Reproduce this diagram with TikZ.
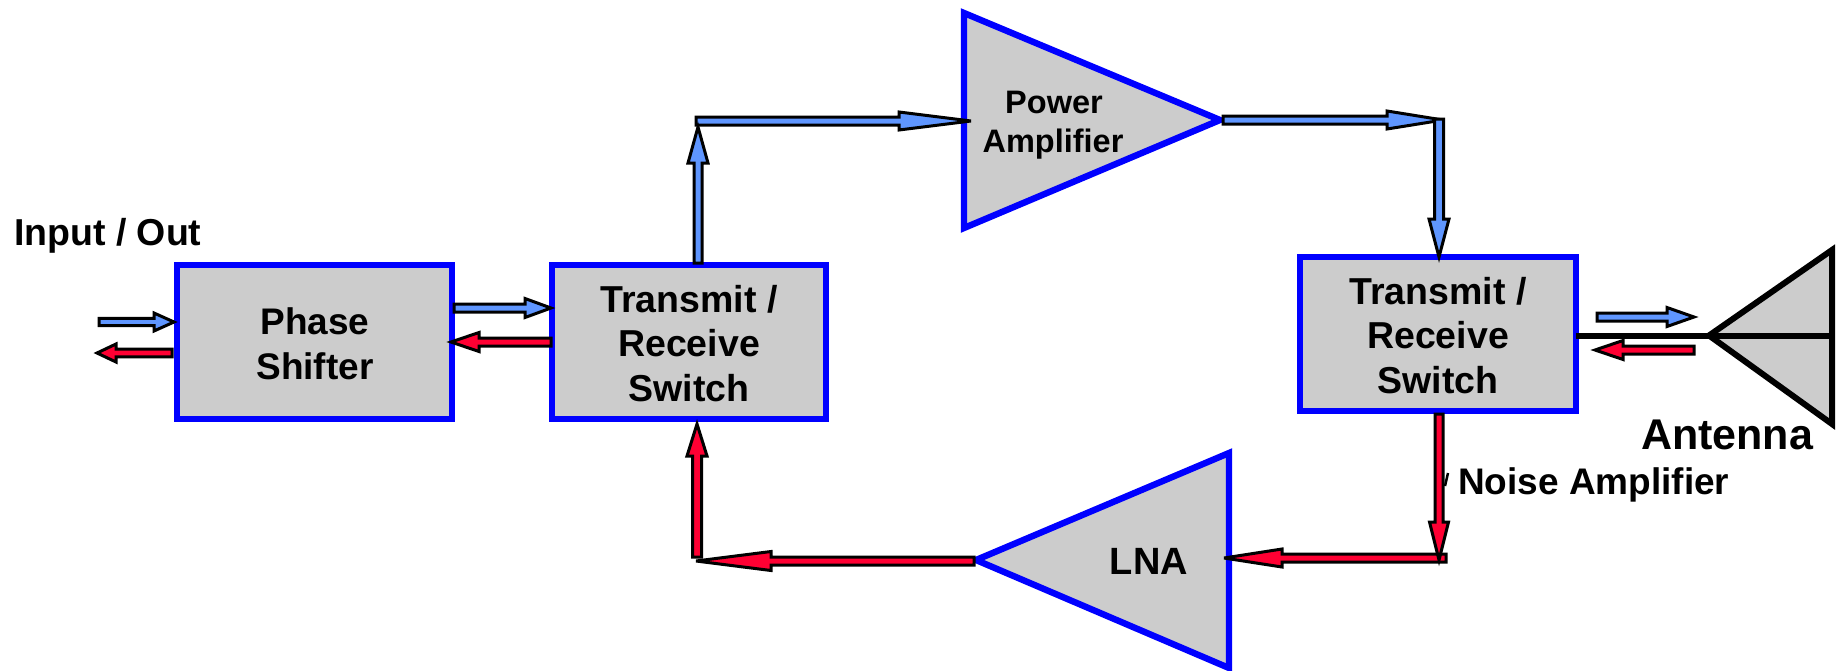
\documentclass[tikz,border=0pt]{standalone}
\usepackage{fontspec}
\setmainfont{Liberation Sans}
\usetikzlibrary{calc}
\definecolor{boxgray}{HTML}{CCCCCC}
\definecolor{arrowblue}{HTML}{5F96FF}
\definecolor{arrowred}{HTML}{FF0033}
\definecolor{edgeblue}{HTML}{0000FF}
\tikzset{
  x=1pt,y=-1pt,
  blockline/.style={draw=edgeblue,fill=boxgray,line width=6.4pt,miter limit=10},
  antline/.style={draw=black,fill=boxgray,line width=6pt,miter limit=10},
  arrowline/.style={draw=black,line width=3pt,miter limit=6,line join=miter},
  txt/.style={inner sep=0pt,outer sep=0pt,font=\bfseries,anchor=base,align=center}
}
% #1 fill, #2 shaft half width, #3 head half width, #4 head length, #5 from, #6 to
\newcommand{\blockarrow}[6]{%
  \coordinate (hb) at ($(#6)!#4pt!(#5)$);
  \draw[arrowline,fill=#1]
    ($(#5)!#2pt!90:(#6)$) -- ($(hb)!#2pt!-90:(#5)$) -- ($(hb)!#3pt!-90:(#5)$) -- (#6)
    -- ($(hb)!#3pt!90:(#5)$) -- ($(hb)!#2pt!90:(#5)$) -- ($(#5)!#2pt!-90:(#6)$) -- cycle;
}
\newcommand{\fs}[1]{\fontsize{#1pt}{#1pt}\selectfont}
\begin{document}
\begin{tikzpicture}
\useasboundingbox (0,0) rectangle (1838,670);
% boxes
\draw[blockline] (177,265) rectangle (452,419);
\draw[blockline] (552,265) rectangle (826,419);
\draw[blockline] (1300,257) rectangle (1576,411);
% triangles
\draw[blockline] (964,13) -- (1220,120) -- (964,228) -- cycle;
\draw[blockline] (1229,453) -- (976,560) -- (1229,668) -- cycle;
% antenna
\coordinate (anttip) at (1709,335.5);
\coordinate (antmid) at (1832,335.5);
\coordinate (antswitch) at (1576,335.5);
\draw[antline] (anttip) -- (1832,250) -- (1832,424) -- cycle;
\draw[black,line width=6pt] (antswitch) -- (anttip) -- (antmid);
% text
\node[txt,anchor=base west] (t0) at (14,245) {\fs{37.5}Input / Out};
\node[txt] (t1) at (315,334) {\fs{37}Phase};
\node[txt] (t2) at (315,379) {\fs{37}Shifter};
\node[txt] (t3) at (689,312) {\fs{37.5}Transmit /};
\node[txt] (t4) at (689,356) {\fs{37.5}Receive};
\node[txt] (t5) at (689,401) {\fs{37.5}Switch};
\node[txt] (t6) at (1438,304) {\fs{37.5}Transmit /};
\node[txt] (t7) at (1438,348) {\fs{37.5}Receive};
\node[txt] (t8) at (1438,393) {\fs{37.5}Switch};
\node[txt] (t9) at (1054,113) {\fs{32.5}Power};
\node[txt] (t10) at (1053,152) {\fs{32.5}Amplifier};
\node[txt] (t11) at (1149,574) {\fs{38}LNA};
\node[txt] (t12) at (1727,449) {\fs{43}Antenna};
\node[txt,anchor=base west] (t13) at (1458,494) {\fs{37}Noise Amplifier};
\draw[black,line width=2.5pt] (1448,473) -- (1445,486);
% connector points
\coordinate (a1) at (99,322);   \coordinate (a2) at (174,322);
\coordinate (b1) at (172,353);  \coordinate (b2) at (97,353);
\coordinate (c1) at (454,308);  \coordinate (c2) at (551,308);
\coordinate (d1) at (551,342);  \coordinate (d2) at (451,342);
\coordinate (e1) at (696,121);  \coordinate (e2) at (971,121);
\coordinate (f1) at (698,263);  \coordinate (f2) at (698,127);
\coordinate (g1) at (1223,120); \coordinate (g2) at (1443,120);
\coordinate (h1) at (1439,119); \coordinate (h2) at (1439,257);
\coordinate (i1) at (1597,317); \coordinate (i2) at (1694,317);
\coordinate (j1) at (1694,350); \coordinate (j2) at (1595,350);
\coordinate (k1) at (1446,558); \coordinate (k2) at (1224,558);
\coordinate (l1) at (1439,414); \coordinate (l2) at (1439,560);
\coordinate (m1) at (974,561);  \coordinate (m2) at (696,561);
\coordinate (n1) at (697,557);  \coordinate (n2) at (697,424);
% transmit path
\blockarrow{arrowblue}{3.6}{9}{20}{a1}{a2}
\blockarrow{arrowred}{3.8}{9}{19}{b1}{b2}
\blockarrow{arrowblue}{4}{9.5}{26}{c1}{c2}
\blockarrow{arrowred}{4}{9.5}{28}{d1}{d2}
\blockarrow{arrowblue}{4}{9}{72}{e1}{e2}
\blockarrow{arrowblue}{4}{10}{36}{f1}{f2}
\blockarrow{arrowblue}{4}{9}{56}{g1}{g2}
\blockarrow{arrowblue}{4.5}{10}{38}{h1}{h2}
\blockarrow{arrowblue}{4}{9.5}{27}{i1}{i2}
\blockarrow{arrowred}{4}{9.5}{28}{j1}{j2}
\blockarrow{arrowred}{4}{9}{58}{k1}{k2}
\blockarrow{arrowred}{4}{9.5}{38}{l1}{l2}
\blockarrow{arrowred}{4}{9.5}{75}{m1}{m2}
\blockarrow{arrowred}{4.5}{10}{32}{n1}{n2}
\end{tikzpicture}
\end{document}
